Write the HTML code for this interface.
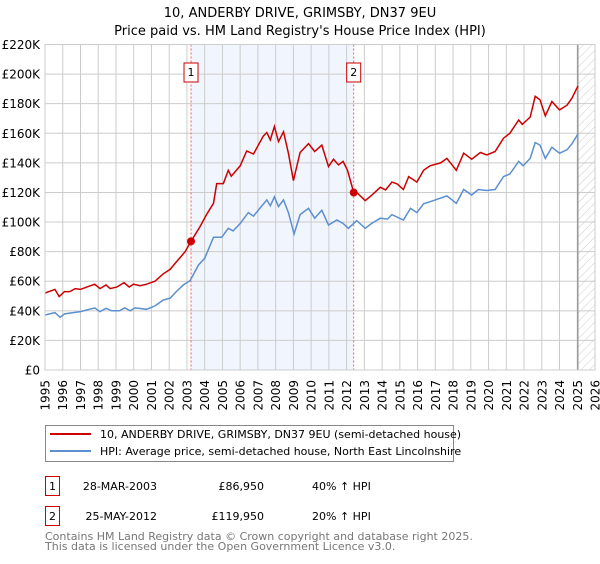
<!DOCTYPE html>
<html><head><meta charset="utf-8"><style>
body{margin:0;background:#fff;font-family:"DejaVu Sans","Liberation Sans",sans-serif;}
svg text{font-family:"DejaVu Sans","Liberation Sans",sans-serif;}
</style></head><body>
<svg id="chart" width="600" height="560" xmlns="http://www.w3.org/2000/svg">
<defs><pattern id="hatch" width="6" height="6" patternUnits="userSpaceOnUse" patternTransform="rotate(45)"><line x1="0" y1="0" x2="0" y2="6" stroke="#ccc" stroke-width="1"/></pattern></defs>
<text x="300" y="17" text-anchor="middle" font-size="13">10, ANDERBY DRIVE, GRIMSBY, DN37 9EU</text>
<text x="300" y="35" text-anchor="middle" font-size="13">Price paid vs. HM Land Registry's House Price Index (HPI)</text>
<g id="plot"></g>
<g>
<rect x="45.5" y="425.5" width="408" height="36" fill="#fff" stroke="#888"/>
<line x1="50" y1="434" x2="91" y2="434" stroke="#cc0000" stroke-width="2"/>
<text x="100" y="438" font-size="11">10, ANDERBY DRIVE, GRIMSBY, DN37 9EU (semi-detached house)</text>
<line x1="50" y1="451" x2="91" y2="451" stroke="#5b8fd0" stroke-width="2"/>
<text x="100" y="455" font-size="11">HPI: Average price, semi-detached house, North East Lincolnshire</text>
</g>
<g>
<rect x="45.5" y="476.5" width="14" height="19" fill="#fff" stroke="#cc0000"/>
<text x="52.5" y="490" text-anchor="middle" font-size="11">1</text>
<text x="157" y="490" text-anchor="end" font-size="11">28-MAR-2003</text>
<text x="264" y="490" text-anchor="end" font-size="11">£86,950</text>
<text x="312" y="490" font-size="11">40% ↑ HPI</text>
</g>
<g>
<rect x="45.5" y="506.5" width="14" height="19" fill="#fff" stroke="#cc0000"/>
<text x="52.5" y="520" text-anchor="middle" font-size="11">2</text>
<text x="157" y="520" text-anchor="end" font-size="11">25-MAY-2012</text>
<text x="264" y="520" text-anchor="end" font-size="11">£119,950</text>
<text x="312" y="520" font-size="11">20% ↑ HPI</text>
</g>
<text x="45" y="540" font-size="11" fill="#777">Contains HM Land Registry data © Crown copyright and database right 2025.</text>
<text x="45" y="550" font-size="11" fill="#777">This data is licensed under the Open Government Licence v3.0.</text>
</svg>
<script>
const yearTicks=[1995,1996,1997,1998,1999,2000,2001,2002,2003,2004,2005,2006,2007,2008,2009,2010,2011,2012,2013,2014,2015,2016,2017,2018,2019,2020,2021,2022,2023,2024,2025,2026];
const valueTicks=[0,20,40,60,80,100,120,140,160,180,200,220];
const valueTickLabels=["£0","£20K","£40K","£60K","£80K","£100K","£120K","£140K","£160K","£180K","£200K","£220K"];
const redYears=[1995.0,1995.56,1995.8,1996.1,1996.4,1996.7,1997.0,1997.35,1997.8,1998.1,1998.44,1998.67,1999.04,1999.45,1999.75,1999.98,2000.36,2000.73,2001.2,2001.67,2002.05,2002.4,2002.9,2003.23,2003.74,2004.1,2004.5,2004.68,2005.05,2005.33,2005.5,2006.0,2006.37,2006.75,2007.3,2007.5,2007.7,2007.93,2008.16,2008.44,2008.72,2009.0,2009.38,2009.85,2010.2,2010.6,2010.98,2011.26,2011.54,2011.8,2012.05,2012.4,2012.57,2013.05,2013.4,2013.9,2014.2,2014.55,2014.85,2015.2,2015.5,2015.96,2016.34,2016.7,2017.3,2017.65,2018.18,2018.6,2019.05,2019.54,2019.9,2020.37,2020.84,2021.2,2021.7,2021.9,2022.35,2022.63,2022.9,2023.2,2023.57,2024.0,2024.42,2024.7,2025.04];
const redValues=[52,54.5,49.6,53,53,55,54.5,56,58,55,57.5,55,56,59,56,58,57,58,60,65,68,73,80,86.95,97,105,112.7,126,126,135,131,138,148,146,158,160.5,155.5,164.6,154.4,161,146.5,128,147,153,147.7,152,137.5,142.5,138.6,141,135,119.95,120,114.5,118,123.5,121.7,127,125.8,122,130.7,127,135,138,140,143,135,146.5,142.5,147,145.4,147.7,156.7,160,169,166,171,185,182.6,171.8,181.5,175.8,179,183.7,192];
const hpiYears=[1995.0,1995.56,1995.85,1996.1,1997.0,1997.8,1998.1,1998.44,1998.76,1999.2,1999.5,1999.8,2000.07,2000.73,2001.2,2001.67,2002.05,2002.4,2002.8,2003.18,2003.65,2004.0,2004.5,2004.96,2005.33,2005.6,2006.0,2006.46,2006.75,2007.5,2007.7,2007.93,2008.16,2008.44,2008.72,2009.04,2009.38,2009.85,2010.2,2010.6,2010.98,2011.45,2011.8,2012.1,2012.57,2013.05,2013.4,2013.9,2014.3,2014.55,2014.9,2015.2,2015.6,2015.96,2016.34,2016.9,2017.65,2018.18,2018.6,2019.05,2019.43,2019.9,2020.37,2020.84,2021.2,2021.7,2021.95,2022.35,2022.63,2022.9,2023.2,2023.57,2024.0,2024.42,2024.7,2025.04];
const hpiValues=[37.2,38.8,35.6,37.9,39.5,42,39.5,41.7,40,40,42,40,42,41,43.3,47.3,48.5,53,57.5,60.4,71,75.5,89.7,89.7,95.8,94,99,106.4,104,115,111,117,110.5,115,106.4,92,105,109.3,102.6,108,98,101.4,99,95.8,101,95.8,99,102.6,102,105,103,101.4,109.3,106.4,112.3,114.5,117.7,112.7,122,118.3,122,121.3,122,130.7,132.5,141,138,143,153.7,152,143,150.6,146.5,148.8,152.8,159.6];
const saleYears=[2003.23,2012.4];
const saleValues=[86.95,119.95];
const saleLabels=["1","2"];
const dataEndYear=2025.03;

const X0=45,X1=595,Y0=370,Y1=44.5,ymin=0,ymax=220,xmin=1995,xmax=2026;
const xs=v=>X0+(v-xmin)/(xmax-xmin)*(X1-X0);
const ys=v=>Y0-(v-ymin)/(ymax-ymin)*(Y0-Y1);
const NS="http://www.w3.org/2000/svg";
const plot=document.getElementById('plot');
function mk(tag,attrs,parent){const e=document.createElementNS(NS,tag);for(const k in attrs)e.setAttribute(k,attrs[k]);(parent||plot).appendChild(e);return e;}

// shaded period
const shade=mk('rect',{x:xs(saleYears[0]),y:Y1,width:xs(saleYears[1])-xs(saleYears[0]),height:Y0-Y1,fill:'#eef3fc',opacity:0.8});


const hatch=mk('rect',{x:xs(dataEndYear),y:Y1,width:X1-xs(dataEndYear),height:Y0-Y1,fill:'url(#hatch)'});


// grid
yearTicks.forEach(t=>{
 const l=mk('line',{x1:xs(t),x2:xs(t),y1:Y1,y2:Y0,stroke:'#ccc','stroke-width':1});
 
 
 const tx=mk('text',{x:0,y:0,'font-size':12,'text-anchor':'end',transform:`translate(${xs(t)+4.5},380) rotate(-90)`});
 tx.textContent=t;
 
 
});
valueTicks.forEach((t,i)=>{
 const l=mk('line',{x1:X0,x2:X1,y1:ys(t),y2:ys(t),stroke:'#ccc','stroke-width':1});
 
 
 const tx=mk('text',{x:40,y:ys(t)+4.5,'font-size':12,'text-anchor':'end'});
 tx.textContent=valueTickLabels[i];
 
 
});
const endLine=mk('line',{x1:xs(dataEndYear),x2:xs(dataEndYear),y1:Y1,y2:Y0,stroke:'#999','stroke-width':1.5});


// sale vertical lines + labels
saleYears.forEach((y,i)=>{
 const l=mk('line',{x1:xs(y),x2:xs(y),y1:Y1,y2:Y0,stroke:'#f06060','stroke-width':1,'stroke-dasharray':'2,2'});
 
 
 const b=mk('rect',{x:xs(y)-7,y:63,width:14,height:19,fill:'#fff',stroke:'#cc0000'});
 
 
 const t=mk('text',{x:xs(y),y:76,'font-size':11,'text-anchor':'middle'});
 t.textContent=saleLabels[i];
 
 
});
function path(xv,yv){return xv.map((x,i)=>(i?'L':'M')+xs(x).toFixed(1)+','+ys(yv[i]).toFixed(1)).join('');}
const hpi=mk('path',{d:path(hpiYears,hpiValues),fill:'none',stroke:'#5b8fd0','stroke-width':1.5});


const red=mk('path',{d:path(redYears,redValues),fill:'none',stroke:'#cc0000','stroke-width':1.5});


saleYears.forEach((y,i)=>{
 const c=mk('circle',{cx:xs(y),cy:ys(saleValues[i]),r:4,fill:'#cc0000'});
 
 
});
const frame=mk('rect',{x:X0,y:Y1,width:X1-X0,height:Y0-Y1,fill:'none',stroke:'#ccc'});


</script>
</body></html>
